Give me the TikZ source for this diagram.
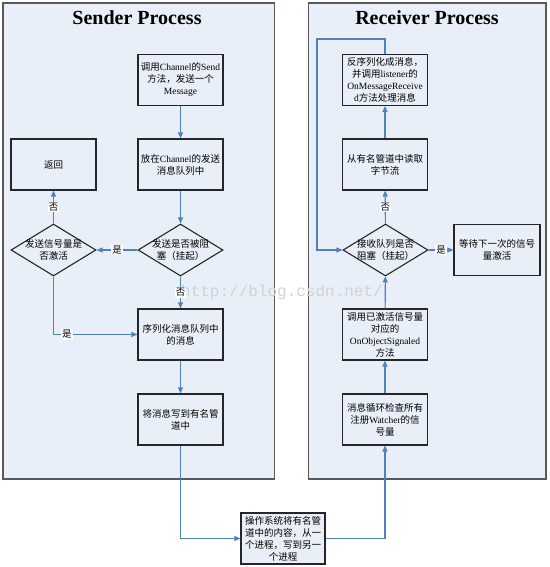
\documentclass[tikz,border=0pt]{standalone}
\usepackage{fontspec}
\setmainfont{Liberation Serif}
\setmonofont{Liberation Mono}
\newfontfamily\cjk{Noto Sans CJK SC}
\usetikzlibrary{shapes.geometric,arrows.meta}
\XeTeXinterchartokenstate=1
\newXeTeXintercharclass\cjkclass
\newcommand\setcjkrange[2]{\count255=#1
	\loop \XeTeXcharclass\count255=\cjkclass \advance\count255 by 1 \ifnum\count255<#2 \repeat}
\setcjkrange{"3000}{"3040}
\setcjkrange{"4E00}{"A000}
\setcjkrange{"FF00}{"FFF0}
\XeTeXinterchartoks 0 \cjkclass = {\cjk}
\XeTeXinterchartoks 4095 \cjkclass = {\cjk}
\XeTeXinterchartoks \cjkclass 0 = {\rmfamily}
\XeTeXinterchartoks 4095 0 = {\rmfamily}
\newcommand\markfont{\XeTeXinterchartokenstate=0 \ttfamily\fontsize{16}{18}\selectfont}
\definecolor{panelfill}{RGB}{233,239,248}
\definecolor{flowblue}{RGB}{79,129,189}
\tikzset{
	procbox/.style={draw=black!85, line width=1.1pt, minimum width=85pt, minimum height=51pt, inner sep=1pt, align=center, font=\fontsize{9.5}{12}\selectfont},
	decide/.style={draw=black!85, line width=1.1pt, diamond, minimum width=85pt, minimum height=52pt, inner sep=0pt},
	dtext/.style={align=center, font=\fontsize{9.5}{12}\selectfont, inner sep=0pt},
	flow/.style={draw=flowblue, line width=1.1pt, -{Triangle[length=6pt,width=5pt]}, fill=none},
	yesno/.style={fill=white, inner sep=1pt, font=\fontsize{9.5}{11}\selectfont},
	panel/.style={draw=black!65, line width=1.5pt, fill=panelfill},
}
\begin{document}
\begin{tikzpicture}[x=1pt,y=-1pt]
		\useasboundingbox (0,0) rectangle (549,567);
		\draw[panel] (3,3) rectangle (274.5,479);
		\draw[panel] (308.5,3) rectangle (546,479);
		\node[font=\fontsize{20}{24}\selectfont\bfseries] (sendtitle) at (137,18) {Sender Process};
		\node[font=\fontsize{20}{24}\selectfont\bfseries] (recvtitle) at (427,18) {Receiver Process};
		\node[procbox] (call) at (180.5,80) {调用Channel的Send\\方法，发送一个\\Message};
		\node[procbox] (put) at (180.5,164.5) {放在Channel的发送\\消息队列中};
		\node[procbox] (ret) at (53.5,164.5) {返回};
		\node[decide, label={[dtext]center:{发送是否被阻\\塞（挂起）}}] (blocked) at (180.5,250) {};
		\node[decide, label={[dtext]center:{发送信号量是\\否激活}}] (signal) at (53.5,250) {};
		\node[procbox] (serial) at (180.5,334.5) {序列化消息队列中\\的消息};
		\node[procbox] (write) at (180.5,419.5) {将消息写到有名管\\道中};
		\node[procbox, fill=panelfill, minimum width=84pt] (os) at (283,538.5) {操作系统将有名管\\道中的内容，从一\\个进程，写到另一\\个进程};
		\node[procbox] (deser) at (385,80) {反序列化成消息，\\并调用listener的\\OnMessageReceive\\d方法处理消息};
		\node[procbox] (read) at (385,164.5) {从有名管道中读取\\字节流};
		\node[decide, label={[dtext]center:{接收队列是否\\阻塞（挂起）}}] (recvq) at (385.5,250) {};
		\node[procbox, minimum width=86pt] (wait) at (497,250) {等待下一次的信号\\量激活};
		\node[procbox] (onobj) at (385,334.5) {调用已激活信号量\\对应的\\OnObjectSignaled\\方法};
		\node[procbox] (msgloop) at (385,419.5) {消息循环检查所有\\注册Watcher的信\\号量};
		\node[font=\markfont, text=gray!35, inner sep=0pt] (mark) at (282,292) {http://blog.csdn.net/};
		\coordinate (loopcorner) at (317,39);
		\draw[flow] (call) -- (put);
		\draw[flow] (put) -- (blocked);
		\draw[flow] (blocked) -- node[yesno] {是} (signal);
		\draw[flow] (signal) -- node[yesno] {否} (ret);
		\draw[flow] (blocked) -- node[yesno] {否} (serial);
		\draw[flow] (signal.south) |- node[yesno, pos=0.58] {是} (serial.west);
		\draw[flow] (serial) -- (write);
		\draw[flow] (write.south) |- (os.west);
		\draw[flow] (os.east) -| (msgloop.south);
		\draw[flow] (msgloop) -- (onobj);
		\draw[flow] (onobj) -- (recvq);
		\draw[flow] (recvq) -- node[yesno] {是} (wait);
		\draw[flow] (recvq) -- node[yesno] {否} (read);
		\draw[flow] (read) -- (deser);
		\draw[flow] (deser.north) |- (loopcorner) |- (recvq.west);
	\end{tikzpicture}
\end{document}
